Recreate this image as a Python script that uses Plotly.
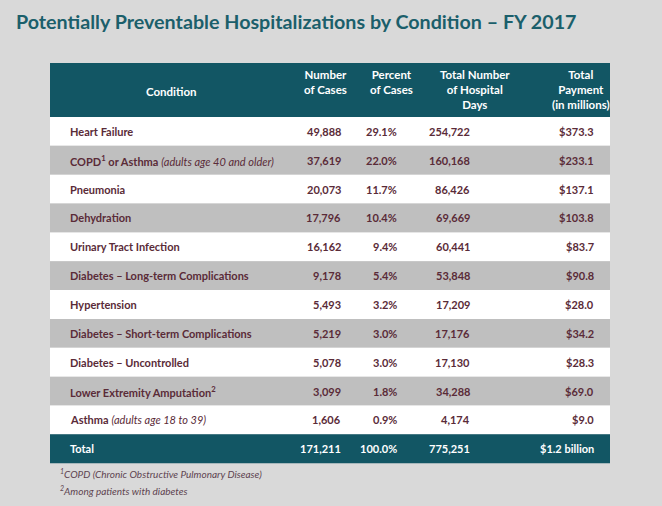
import plotly.graph_objects as go

# ---- data ----
conditions = [
    "<b>Heart Failure</b>",
    "<b>COPD<sup>1</sup> or Asthma</b> <i>(adults age 40 and older)</i>",
    "<b>Pneumonia</b>",
    "<b>Dehydration</b>",
    "<b>Urinary Tract Infection</b>",
    "<b>Diabetes – Long-term Complications</b>",
    "<b>Hypertension</b>",
    "<b>Diabetes – Short-term Complications</b>",
    "<b>Diabetes – Uncontrolled</b>",
    "<b>Lower Extremity Amputation<sup>2</sup></b>",
    "<b>Asthma</b> <i>(adults age 18 to 39)</i>",
]
num_cases = ["49,888", "37,619", "20,073", "17,796", "16,162", "9,178", "5,493", "5,219", "5,078", "3,099", "1,606"]
pct_cases = ["29.1%", "22.0%", "11.7%", "10.4%", "9.4%", "5.4%", "3.2%", "3.0%", "3.0%", "1.8%", "0.9%"]
hosp_days = ["254,722", "160,168", "86,426", "69,669", "60,441", "53,848", "17,209", "17,176", "17,130", "34,288", "4,174"]
payment = ["$373.3", "$233.1", "$137.1", "$103.8", "$83.7", "$90.8", "$28.0", "$34.2", "$28.3", "$69.0", "$9.0"]
total_row = ["Total", "171,211", "100.0%", "775,251", "$1.2 billion"]
headers = ["Condition", "Number<br>of Cases", "Percent<br>of Cases",
           "Total Number<br>of Hospital<br>Days", "Total<br>Payment<br>(in millions)"]
footnotes = ["<sup>1</sup>COPD (Chronic Obstructive Pulmonary Disease)",
             "<sup>2</sup>Among patients with diabetes"]
title = "Potentially Preventable Hospitalizations by Condition – FY 2017"

# ---- layout constants (pixels) ----
W, H = 662, 506
FONT = "Lato"
TEAL = "#125664"
BG = "#d9d9d9"
GRAY = "#bfbfbf"
TXT = "#5a2b38"
TBL_L, TBL_R = 50, 610
HDR_T, HDR_B = 63, 117
ROW_H = 28.85
COND_X = 68
VAL_X = [343, 399, 472, 596]
HDR_X = [171, 325, 391, 475, 581]

fig = go.Figure()
shapes = []
ann = []

# header
shapes.append(dict(type="rect", x0=TBL_L, x1=TBL_R, y0=HDR_T, y1=HDR_B,
                   fillcolor=TEAL, line=dict(width=0), layer="below"))
for i, h in enumerate(headers):
    if i == 0:
        ann.append(dict(x=HDR_X[i], y=(HDR_T + HDR_B) / 2 + 1, text=f"<b>{h}</b>",
                        xanchor="center", yanchor="middle", align="center",
                        font=dict(family=FONT, size=11.5, color="white")))
    else:
        ann.append(dict(x=HDR_X[i], y=HDR_T + 3, text=f"<b>{h}</b>",
                        xanchor="center", yanchor="top", align="center",
                        font=dict(family=FONT, size=11.5, color="white")))

# rows
n = len(conditions)
for i in range(n + 1):
    y0 = HDR_B + i * ROW_H
    y1 = y0 + ROW_H
    yc = (y0 + y1) / 2
    if i == n:
        fill = TEAL
        color = "white"
        cells = [f"<b>{t}</b>" for t in total_row]
    else:
        fill = "white" if i % 2 == 0 else GRAY
        color = TXT
        cells = [conditions[i]] + [f"<b>{v}</b>" for v in
                                   (num_cases[i], pct_cases[i], hosp_days[i], payment[i])]
    shapes.append(dict(type="rect", x0=TBL_L, x1=TBL_R, y0=y0, y1=y1,
                       fillcolor=fill, line=dict(width=0), layer="below"))
    ann.append(dict(x=COND_X, y=yc, text=cells[0], xanchor="left", yanchor="middle",
                    font=dict(family=FONT, size=11, color=color)))
    for j in range(4):
        ann.append(dict(x=VAL_X[j], y=yc, text=cells[j + 1], xanchor="right",
                        yanchor="middle", font=dict(family=FONT, size=11, color=color)))

# footnotes
for k, f in enumerate(footnotes):
    ann.append(dict(x=58, y=473 + 17 * k, text=f"<i>{f}</i>", xanchor="left",
                    yanchor="middle", font=dict(family=FONT, size=10, color="#5e4450")))

# title
ann.append(dict(x=14, y=21, text=f"<b>{title}</b>", xanchor="left", yanchor="middle",
                font=dict(family=FONT, size=19.7, color="#1b5f6b")))

for a in ann:
    a.update(xref="x", yref="y", showarrow=False)

fig.add_trace(go.Scatter(x=[0, W], y=[0, H], mode="markers",
                         marker=dict(opacity=0), hoverinfo="skip", showlegend=False))
fig.update_layout(
    width=W, height=H, margin=dict(l=0, r=0, t=0, b=0),
    paper_bgcolor=BG, plot_bgcolor=BG,
    xaxis=dict(range=[0, W], visible=False, fixedrange=True),
    yaxis=dict(range=[H, 0], visible=False, fixedrange=True),
    shapes=shapes, annotations=ann,
)
fig.write_html("out.html", config={"displayModeBar": False},
               post_script="document.body.style.margin='0';"
                           "document.body.style.overflow='hidden';"
                           "document.body.style.background='#d9d9d9';")
